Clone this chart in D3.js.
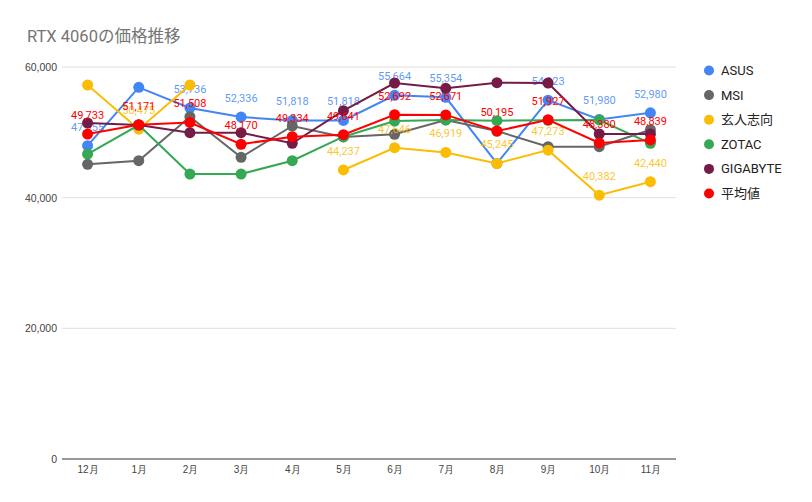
<!DOCTYPE html>
<html><head><meta charset="utf-8">
<script src="https://cdn.jsdelivr.net/npm/d3@7"></script>
<style>
body{margin:0;background:#fff;}
svg{font-family:Roboto,"Noto Sans CJK JP",sans-serif;}
</style></head>
<body><svg id="c" width="812" height="502"></svg>
<script>
const months = ["12月","1月","2月","3月","4月","5月","6月","7月","8月","9月","10月","11月"];
const yTicks = [0, 20000, 40000, 60000];
const seriesNames = ["ASUS","MSI","玄人志向","ZOTAC","GIGABYTE","平均値"];
const colors = ["#4285f4","#666666","#fbbc04","#34a853","#741b47","#ff0000"];
const asus     = [47955, 56890, 53736, 52336, 51818, 51818, 55664, 55354, 45245, 54923, 51980, 52980];
const msi      = [45100, 45660, 52390, 46180, 50970, 49300, 49700, 51890, 50200, 47800, 47800, 50400];
const kuro     = [57245, 50475, 57245, null, null, 44237, 47646, 46919, 45245, 47273, 40382, 42440];
const zotac    = [46680, 51120, 43620, 43620, 45660, 49330, 51730, 51890, 51780, 51840, 51890, 48320];
const gigabyte = [51430, 51120, 49940, 49940, 48320, 53310, 57550, 56740, 57600, 57550, 49745, 49745];
const average  = [49733, 51171, 51508, 48170, 49334, 49641, 52692, 52671, 50195, 51927, 48380, 48839];
const allValues = [asus, msi, kuro, zotac, gigabyte, average];
const labelled = ["ASUS","玄人志向","平均値"];
const hiddenLabels = [["ASUS","1月"],["ASUS","8月"],["玄人志向","12月"],["玄人志向","2月"]];

const svg = d3.select("#c");
const x = d3.scalePoint().domain(months).range([62,676]).padding(0.5);
const y = d3.scaleLinear().domain([0,60000]).range([459,67]);

svg.append("text").attr("x",27).attr("y",42).attr("font-size",16.5).attr("fill","#757575").text("RTX 4060の価格推移");

// grid
const grid = svg.append("g");
grid.selectAll("line").data(yTicks.filter(d=>d>0)).join("line")
  .attr("x1",62).attr("x2",676).attr("y1",d=>y(d)).attr("y2",d=>y(d))
  .attr("stroke","#e0e0e0").attr("stroke-width",1);
grid.append("line").attr("x1",62).attr("x2",676).attr("y1",y(0)).attr("y2",y(0)).attr("stroke","#333").attr("stroke-width",1);

// y axis labels
const yAxis = d3.axisLeft(y).tickValues(yTicks).tickSize(0).tickPadding(5).tickFormat(d3.format(","));
const ya = svg.append("g").attr("transform","translate(62,0)").call(yAxis);
ya.select(".domain").remove();
ya.selectAll("text").attr("font-size",10.5).attr("fill","#444").attr("font-family",null);

// x axis labels
const xAxis = d3.axisBottom(x).tickSize(0).tickPadding(7);
const xa = svg.append("g").attr("transform",`translate(0,${y(0)})`).call(xAxis);
xa.select(".domain").remove();
xa.selectAll("text").attr("font-size",10).attr("fill","#444").attr("font-family",null);

const fmt = d3.format(",");
const line = d3.line().defined(d=>d.v!=null).x(d=>x(d.m)).y(d=>y(d.v));

seriesNames.forEach((name,i)=>{
  const data = months.map((m,j)=>({m, v: allValues[i][j]}));
  const g = svg.append("g");
  g.append("path").datum(data).attr("d",line).attr("fill","none")
    .attr("stroke",colors[i]).attr("stroke-width",2);
  g.selectAll("circle").data(data.filter(d=>d.v!=null)).join("circle")
    .attr("cx",d=>x(d.m)).attr("cy",d=>y(d.v)).attr("r",5.5).attr("fill",colors[i]);
  if (labelled.includes(name)) {
    const shown = data.filter(d=>d.v!=null && !hiddenLabels.some(h=>h[0]===name && h[1]===d.m));
    g.selectAll("text").data(shown).join("text")
      .attr("x",d=>x(d.m)).attr("y",d=>y(d.v)-15)
      .attr("text-anchor","middle").attr("font-size",11).attr("fill",colors[i])
      .attr("fill-opacity", name==="平均値"?1:0.85)
      .text(d=>fmt(d.v));
  }
});

// legend
const lg = svg.append("g");
seriesNames.forEach((name,i)=>{
  const yy = 70.5 + i*24.6;
  lg.append("circle").attr("cx",709).attr("cy",yy).attr("r",5).attr("fill",colors[i]);
  lg.append("text").attr("x",721).attr("y",yy+4.5).attr("font-size",13).attr("fill","#222").text(name);
});
</script></body></html>
